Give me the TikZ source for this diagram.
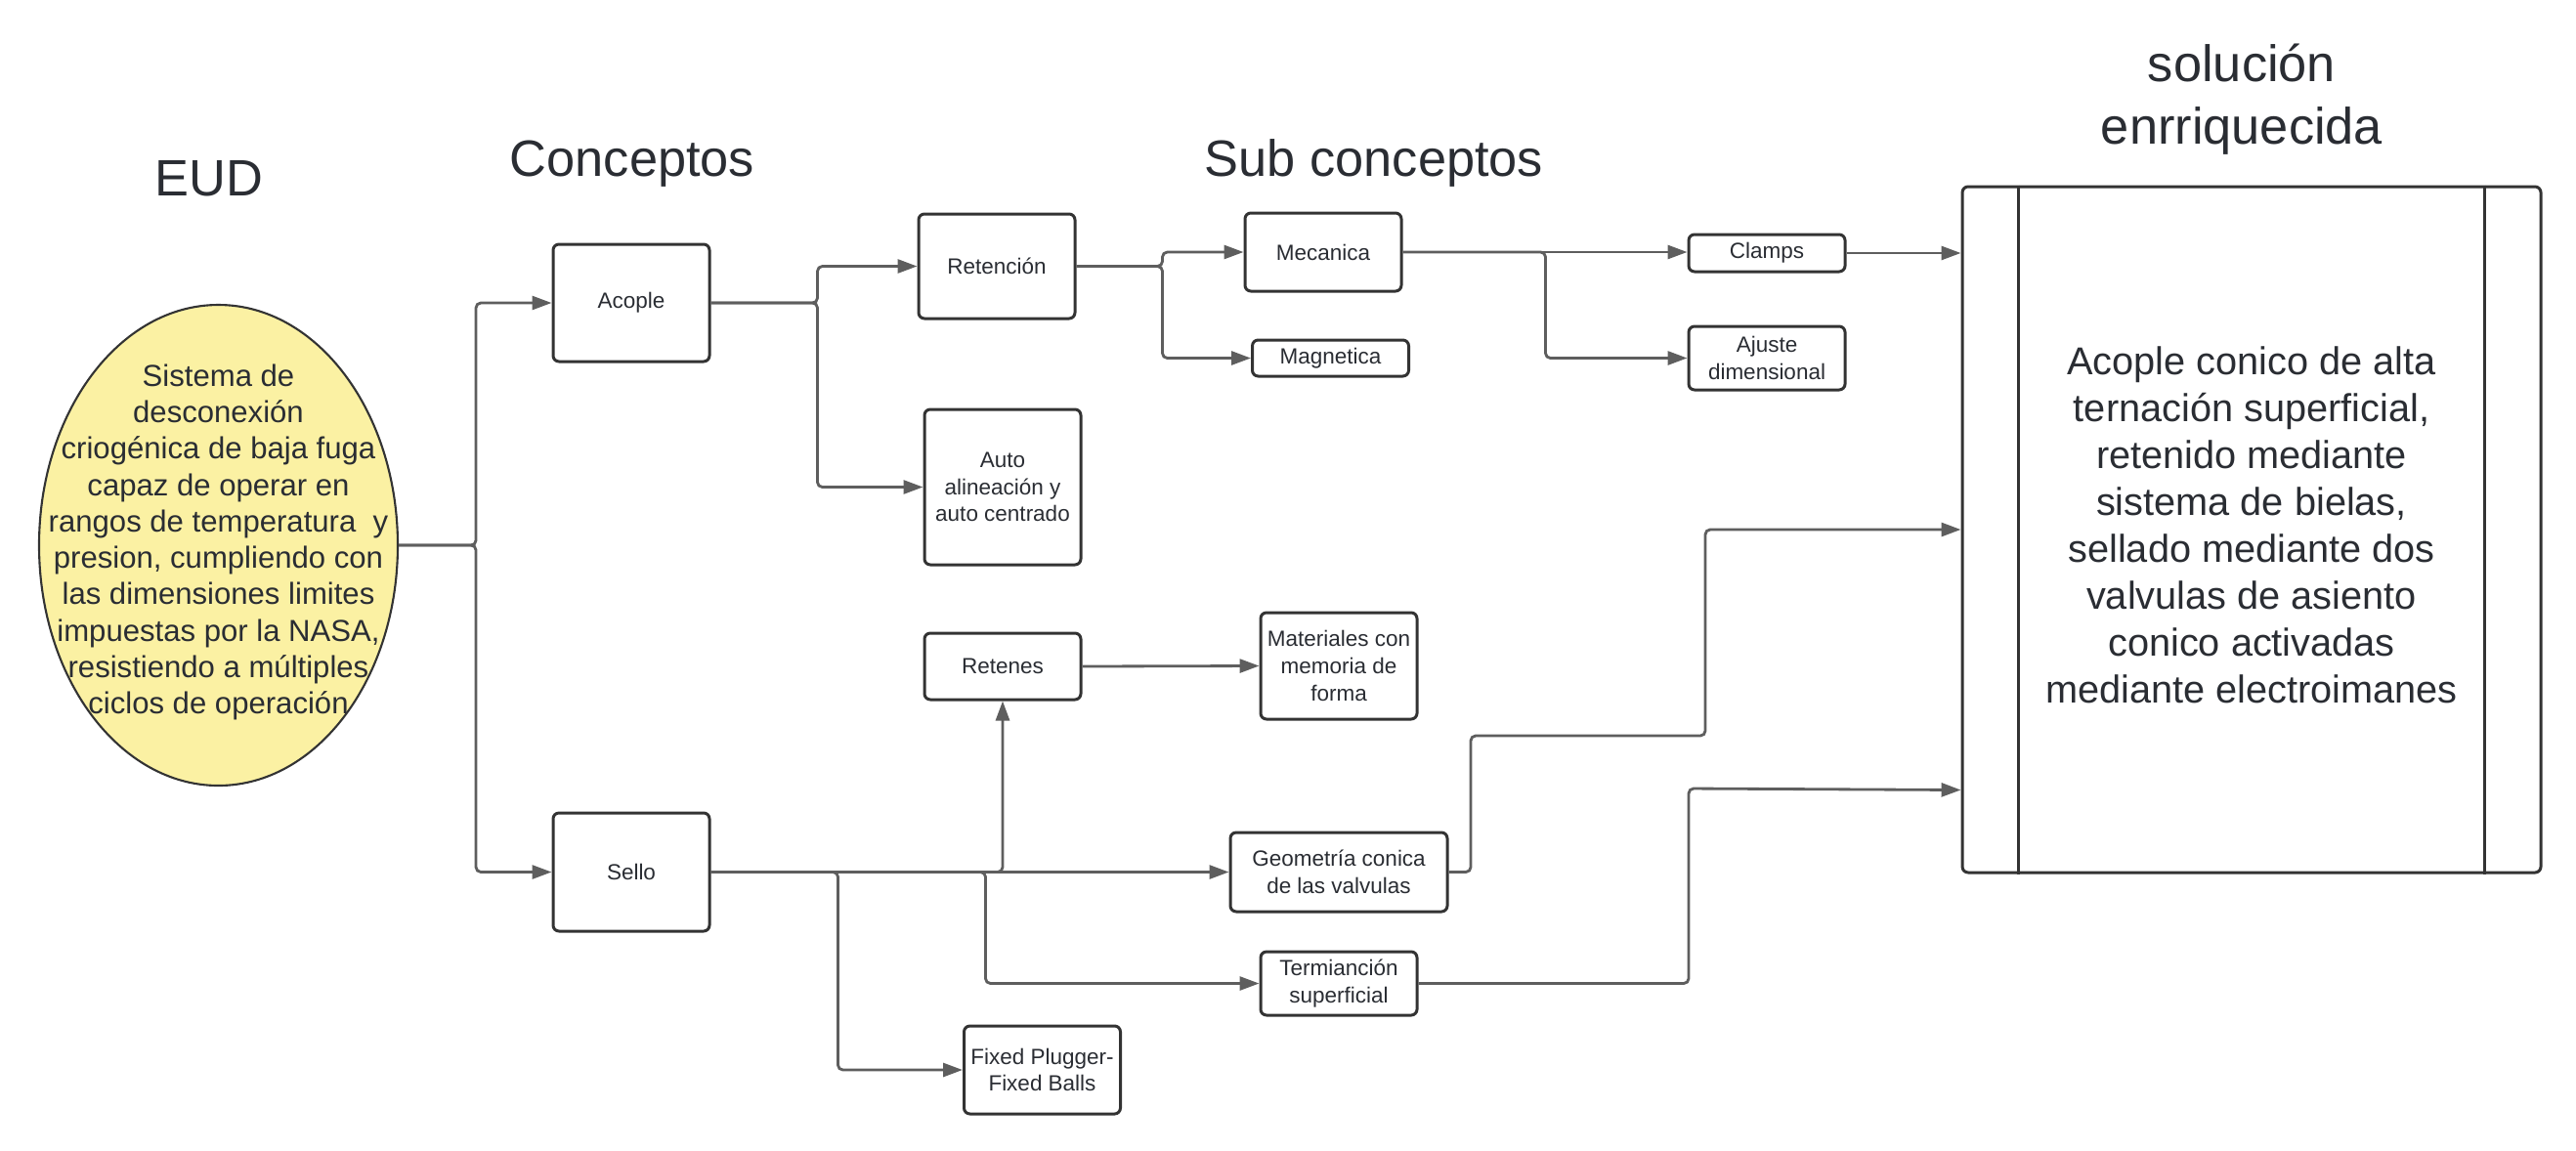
\documentclass[tikz,border=0pt]{standalone}
\usepackage{fontspec}
\setmainfont{Liberation Sans}
\usetikzlibrary{arrows.meta,shapes.geometric}

\begin{document}
\begin{tikzpicture}[x=1cm,y=-1cm,
  every node/.style={align=center,text=ink},
  box/.style={draw=edge,line width=0.85pt,rounded corners=0.06cm,inner sep=0pt,
    minimum width=1.6cm,font=\fontsize{6.4}{7.9}\selectfont},
  link/.style={draw=wiregray,line width=0.8pt,rounded corners=0.05cm,
    -{Triangle[length=0.2cm,width=0.14cm]}},
  heading/.style={anchor=base,font=\fontsize{14.9}{18.2}\selectfont}]
  \definecolor{ink}{HTML}{2A2D33}
  \definecolor{edge}{HTML}{333333}
  \definecolor{wiregray}{HTML}{5E5E5E}
  \definecolor{butter}{HTML}{FBF1A3}
  \fill[white] (0,0) rectangle (26.36,11.77);
  \useasboundingbox (0,0) rectangle (26.36,11.77);
  % Column headings.
  \node[heading] (tEUD) at (2.14,2.00) {EUD};
  \node[heading] (tConc) at (6.47,1.80) {Conceptos};
  \node[heading] (tSub) at (14.06,1.80) {Sub conceptos};
  \node[heading] (tSolA) at (22.94,0.83) {solución};
  \node[heading] (tSolB) at (22.94,1.47) {enrriquecida};
  % The need, as a yellow oval.
  \node[ellipse,draw=edge,line width=0.6pt,fill=butter,minimum width=3.67cm,
    minimum height=4.92cm,inner sep=0pt] (eud) at (2.235,5.58) {};
  \node[font=\fontsize{8.85}{10.6}\selectfont] (eudtxt) at (2.235,5.55)
    {Sistema de\\desconexión\\criogénica de baja fuga\\capaz de operar en\\
     rangos de temperatura~ y\\presion, cumpliendo con\\las dimensiones limites\\
     impuestas por la NASA,\\resistiendo a múltiples\\ciclos de operación};
  % Concepts.
  \node[box,minimum height=1.20cm] (acople) at (6.46,3.10) {Acople};
  \node[box,minimum height=1.21cm] (sello) at (6.46,8.925) {Sello};
  % Sub concepts of the coupling.
  \node[box,minimum height=1.07cm] (reten) at (10.20,2.725) {Retención};
  \node[box,minimum height=1.59cm] (autoal) at (10.26,4.985) {Auto\\alineación y\\auto centrado};
  \node[box,minimum height=0.80cm] (mecan) at (13.54,2.58) {Mecanica};
  \node[box,minimum height=0.37cm] (magnet) at (13.615,3.665) {Magnetica};
  \node[box,minimum height=0.38cm] (clamps) at (18.08,2.59) {Clamps};
  \node[box,minimum height=0.65cm] (ajuste) at (18.08,3.665) {Ajuste\\dimensional};
  % Sub concepts of the seal.
  \node[box,minimum height=0.68cm] (retenes) at (10.26,6.82) {Retenes};
  \node[box,minimum height=1.09cm] (mater) at (13.70,6.815) {Materiales con\\memoria de\\forma};
  \node[box,minimum width=2.22cm,minimum height=0.81cm] (geom) at (13.70,8.925) {Geometría conica\\de las valvulas};
  \node[box,minimum height=0.65cm] (termi) at (13.70,10.065) {Termianción\\superficial};
  \node[box,minimum height=0.90cm] (fixed) at (10.665,10.95) {Fixed Plugger-\\Fixed Balls};
  % Enriched solution.
  \node[box,minimum width=5.92cm,minimum height=7.02cm] (sol) at (23.04,5.42) {};
  \node[font=\fontsize{11.3}{13.65}\selectfont] (soltxt) at (23.04,5.37)
    {Acople conico de alta\\ternación superficial,\\retenido mediante\\sistema de bielas,\\
     sellado mediante dos\\valvulas de asiento\\conico activadas\\mediante electroimanes};
  \draw[edge,line width=0.85pt] ([xshift=0.59cm]sol.north west) -- ([xshift=0.59cm]sol.south west);
  \draw[edge,line width=0.85pt] ([xshift=-0.59cm]sol.north east) -- ([xshift=-0.59cm]sol.south east);
  % Connectors.
  \draw[link] (eud.east) -- ++(0.79,0) |- (acople.west);
  \draw[link] (eud.east) -- ++(0.79,0) |- (sello.west);
  \draw[link] (acople.east) -- ++(1.09,0) |- (reten.west);
  \draw[link] (acople.east) -- ++(1.09,0) |- (autoal.west);
  \draw[link] (reten.east) -- ++(0.88,0) |- (mecan.west);
  \draw[link] (reten.east) -- ++(0.88,0) |- (magnet.west);
  \draw[link] (mecan.east) -- (mecan.east -| clamps.west);
  \draw[link] (mecan.east) -- ++(1.46,0) |- (ajuste.west);
  \draw[link] (clamps.east) -- (clamps.east -| sol.west);
  \draw[link] (sello.east) -- (geom.west);
  \draw[link] (sello.east) -| (retenes.south);
  \draw[link] (sello.east) -- ++(2.81,0) |- (termi.west);
  \draw[link] (sello.east) -- ++(1.30,0) |- (fixed.west);
  \draw[link] (retenes.east) -- (mater.west);
  \draw[link] (geom.east) -| (15.05,7.53) -| (17.45,5.42) -- (sol.west);
  \draw[link] (termi.east) -| (17.28,8.07) -- ([yshift=0.86cm]sol.south west);
\end{tikzpicture}
\end{document}
